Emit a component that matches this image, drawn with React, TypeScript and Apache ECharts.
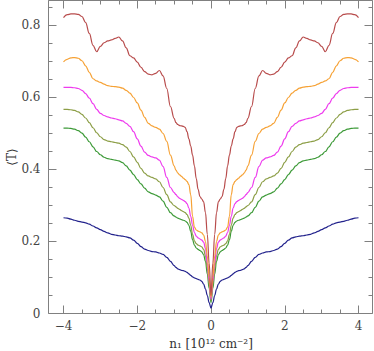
import React, { useEffect, useRef } from "react";
import * as echarts from "echarts";

// Right half of the (symmetric) curves; the left half mirrors it.
const xHalf = [0, 0.05, 0.1, 0.15, 0.2, 0.25, 0.3, 0.35, 0.4, 0.45, 0.5, 0.55, 0.6, 0.65, 0.7, 0.75, 0.8, 0.85, 0.9, 0.95, 1.0,
  1.1, 1.2, 1.3, 1.4, 1.5, 1.6, 1.7, 1.8, 1.9, 2.0, 2.1, 2.2, 2.3, 2.4, 2.5, 2.6, 2.7, 2.8, 2.9, 3.0,
  3.1, 3.2, 3.3, 3.4, 3.5, 3.6, 3.7, 3.8, 3.9, 4.0];

const blueHalf = [0.015, 0.03, 0.05, 0.068, 0.082, 0.089, 0.093, 0.095, 0.097, 0.099, 0.102, 0.106, 0.11, 0.114, 0.117, 0.119, 0.12, 0.122, 0.124, 0.128, 0.133,
  0.145, 0.156, 0.164, 0.168, 0.171, 0.172, 0.175, 0.179, 0.186, 0.195, 0.204, 0.21, 0.213, 0.215, 0.216, 0.218, 0.22, 0.224, 0.228, 0.233,
  0.238, 0.243, 0.248, 0.252, 0.254, 0.256, 0.259, 0.262, 0.265, 0.266];

const greenHalf = [0.03, 0.07, 0.11, 0.145, 0.163, 0.171, 0.175, 0.178, 0.182, 0.19, 0.205, 0.228, 0.245, 0.253, 0.257, 0.259, 0.261, 0.263, 0.265, 0.268, 0.271,
  0.28, 0.295, 0.312, 0.324, 0.329, 0.333, 0.338, 0.348, 0.36, 0.372, 0.386, 0.398, 0.41, 0.419, 0.424, 0.426, 0.428, 0.43, 0.434, 0.441,
  0.45, 0.463, 0.477, 0.49, 0.501, 0.508, 0.512, 0.514, 0.515, 0.515];

const oliveHalf = [0.035, 0.08, 0.125, 0.16, 0.178, 0.185, 0.188, 0.19, 0.194, 0.202, 0.22, 0.245, 0.265, 0.275, 0.28, 0.283, 0.286, 0.289, 0.292, 0.296, 0.3,
  0.31, 0.33, 0.35, 0.366, 0.374, 0.378, 0.382, 0.39, 0.403, 0.42, 0.435, 0.45, 0.462, 0.469, 0.473, 0.475, 0.477, 0.479, 0.483, 0.491,
  0.502, 0.516, 0.53, 0.543, 0.553, 0.56, 0.564, 0.566, 0.567, 0.567];

const magentaHalf = [0.04, 0.09, 0.14, 0.18, 0.198, 0.204, 0.207, 0.21, 0.215, 0.225, 0.245, 0.27, 0.293, 0.305, 0.311, 0.314, 0.317, 0.32, 0.324, 0.33, 0.336,
  0.35, 0.378, 0.408, 0.426, 0.432, 0.435, 0.439, 0.448, 0.465, 0.485, 0.505, 0.52, 0.528, 0.535, 0.538, 0.541, 0.543, 0.546, 0.55, 0.556,
  0.567, 0.583, 0.598, 0.611, 0.62, 0.625, 0.627, 0.628, 0.628, 0.628];

const orangeHalf = [0.045, 0.1, 0.16, 0.2, 0.218, 0.224, 0.227, 0.229, 0.232, 0.24, 0.27, 0.33, 0.358, 0.367, 0.372, 0.376, 0.381, 0.385, 0.39, 0.398, 0.41,
  0.44, 0.478, 0.5, 0.512, 0.517, 0.521, 0.528, 0.545, 0.565, 0.585, 0.6, 0.612, 0.62, 0.626, 0.629, 0.63, 0.631, 0.633, 0.637, 0.642,
  0.646, 0.652, 0.67, 0.688, 0.702, 0.709, 0.711, 0.71, 0.706, 0.699];

const brownHalf = [0.05, 0.14, 0.22, 0.28, 0.31, 0.318, 0.325, 0.345, 0.375, 0.41, 0.44, 0.465, 0.485, 0.505, 0.517, 0.52, 0.521, 0.522, 0.525, 0.53, 0.542,
  0.575, 0.625, 0.66, 0.675, 0.667, 0.663, 0.665, 0.672, 0.684, 0.698, 0.71, 0.716, 0.738, 0.757, 0.768, 0.764, 0.76, 0.757, 0.752, 0.742,
  0.727, 0.745, 0.778, 0.808, 0.825, 0.831, 0.832, 0.832, 0.83, 0.822];

const xTicks = { min: -4, max: 4, interval: 2 };
const yTicks = { min: 0, max: 0.8694, interval: 0.2 };
const xAxisTitle = "n\u2081 [10\u00b9\u00b2 cm\u207b\u00b2]";
const yAxisTitle = "\u27e8T\u27e9";

const seriesDefs = [
  { name: "blue", color: "#22228c", half: blueHalf },
  { name: "green", color: "#3d9a38", half: greenHalf },
  { name: "olive", color: "#8c9e46", half: oliveHalf },
  { name: "magenta", color: "#ee3cee", half: magentaHalf },
  { name: "orange", color: "#f6a236", half: orangeHalf },
  { name: "brown", color: "#b84c4c", half: brownHalf },
];

function fullCurve(half: number[]): number[][] {
  const pts: number[][] = [];
  for (let i = xHalf.length - 1; i > 0; i--) pts.push([-xHalf[i], half[i]]);
  for (let i = 0; i < xHalf.length; i++) pts.push([xHalf[i], half[i]]);
  return pts;
}

const SERIF = "'DejaVu Serif', 'Liberation Serif', serif";
const tickColor = "#808080";

export default function App() {
  const ref = useRef<HTMLDivElement>(null);
  useEffect(() => {
    const chart = echarts.init(ref.current!, null, { renderer: "svg" });
    const tick = { show: true, inside: true, length: 8, lineStyle: { color: tickColor, width: 1 } };
    const minor = { show: true, splitNumber: 4, length: 4, lineStyle: { color: tickColor, width: 1 } };
    const label = { fontFamily: SERIF, fontSize: 12, color: "#444" };
    const noLine = { show: false, onZero: false };
    chart.setOption({
      animation: false,
      grid: { left: 63.5, right: 15.5, top: 0.5, bottom: 37.5, containLabel: false, outerBoundsMode: "none" },
      graphic: [
        {
          type: "rect",
          silent: true,
          shape: { x: 48.5, y: 0.5, width: 324, height: 313 },
          style: { fill: "none", stroke: tickColor, lineWidth: 1 },
          z: 1,
        },
      ],
      xAxis: [
        {
          type: "value",
          position: "bottom",
          ...xTicks,
          axisLine: noLine,
          axisTick: tick,
          minorTick: minor,
          splitLine: { show: false },
          minorSplitLine: { show: false },
          axisLabel: { ...label, margin: 6, formatter: (v: number) => String(v).replace("-", "\u2212") },
          name: xAxisTitle,
          nameLocation: "middle",
          nameGap: 24,
          nameMoveOverlap: false,
          nameTextStyle: { fontFamily: SERIF, fontSize: 12, color: "#333" },
        },
        {
          type: "value",
          position: "top",
          ...xTicks,
          axisLine: noLine,
          axisTick: tick,
          minorTick: minor,
          splitLine: { show: false },
          axisLabel: { show: false },
        },
      ],
      yAxis: [
        {
          type: "value",
          position: "left",
          offset: 15,
          ...yTicks,
          axisLine: noLine,
          axisTick: tick,
          minorTick: minor,
          splitLine: { show: false },
          minorSplitLine: { show: false },
          axisLabel: { ...label, margin: 8, showMaxLabel: false },
          name: yAxisTitle,
          nameLocation: "middle",
          nameGap: 31,
          nameMoveOverlap: false,
          nameTextStyle: { fontFamily: "'DejaVu Serif', 'DejaVu Sans', serif", fontSize: 12, color: "#333" },
        },
        {
          type: "value",
          position: "right",
          offset: 14,
          ...yTicks,
          axisLine: noLine,
          axisTick: tick,
          minorTick: minor,
          splitLine: { show: false },
          axisLabel: { show: false },
        },
      ],
      series: seriesDefs.map((s) => ({
        name: s.name,
        type: "line",
        data: fullCurve(s.half),
        showSymbol: false,
        symbol: "none",
        smooth: 0.4,
        smoothMonotone: "x",
        clip: false,
        lineStyle: { color: s.color, width: 1.2 },
        itemStyle: { color: s.color },
        z: 3,
      })),
    });
    return () => chart.dispose();
  }, []);
  return <div ref={ref} style={{ position: "absolute", left: 0, top: 0, width: 374, height: 351 }} />;
}
